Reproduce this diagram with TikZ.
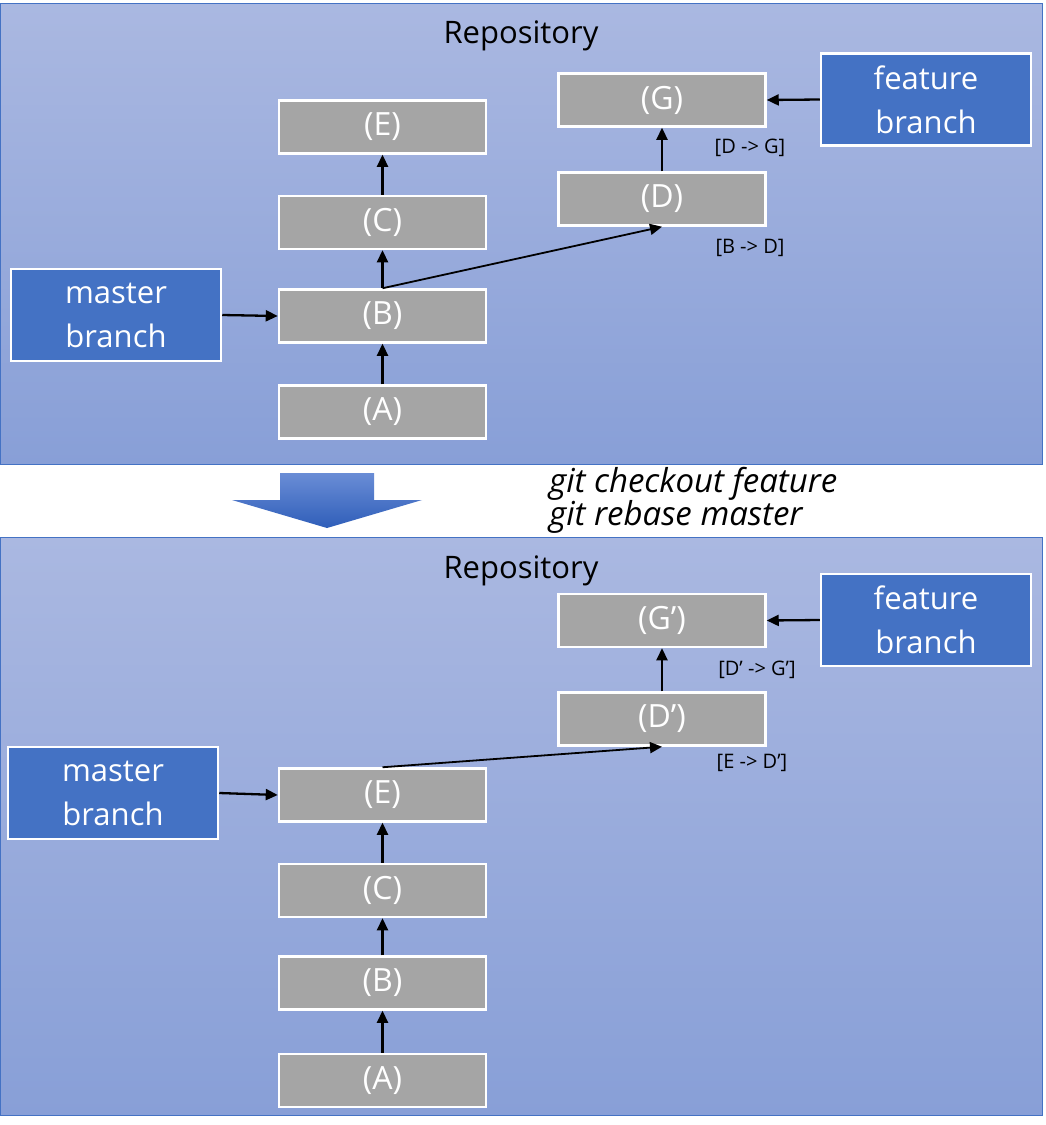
\documentclass[tikz,border=0pt]{standalone}
\usepackage{fontspec}
\setmainfont{Open Sans}
\usetikzlibrary{arrows.meta}
\definecolor{panelTop}{HTML}{AAB8E1}
\definecolor{panelBot}{HTML}{889FD7}
\definecolor{panelLine}{HTML}{4472C4}
\definecolor{branchFill}{HTML}{4472C4}
\definecolor{commitFill}{HTML}{A5A5A5}
\definecolor{bigTop}{HTML}{6A8DD6}
\definecolor{bigBot}{HTML}{2F5EB9}
\begin{document}
\begin{tikzpicture}[x=1pt,y=-1pt,
  panel/.style={draw=panelLine, line width=1pt, top color=panelTop, bottom color=panelBot,
    minimum width=1042pt, inner sep=0pt},
  commit/.style={draw=white, line width=2.5pt, fill=commitFill, minimum width=207pt,
    minimum height=53pt, inner sep=0pt, text=white, font=\fontsize{32}{36}\selectfont},
  branch/.style={draw=white, line width=2.5pt, fill=branchFill, minimum width=210pt,
    minimum height=92pt, inner sep=0pt, text=white, align=center,
    font=\fontsize{31}{44}\selectfont},
  title/.style={text=black, font=\fontsize{31}{36}\selectfont, inner sep=0pt},
  small/.style={text=black, font=\fontsize{20}{22}\selectfont, inner sep=0pt},
  link/.style={line width=2.3pt, -{Triangle[length=12pt,width=11pt]}},
  thinlink/.style={line width=1.8pt, -{Triangle[length=12pt,width=11pt]}}
]
\useasboundingbox[fill=white] (0,0) rectangle (1045,1125);

% panels
\node[panel, minimum height=461pt] (p1) at (521.5,233.5) {};
\node[panel, minimum height=578pt] (p2) at (521.5,826) {};

% top repository
\node[title] (r1) at (521,36) {Repository};
\node[commit] (e1) at (382.5,127) {(E)};
\node[commit] (c1) at (382.5,222.5) {(C)};
\node[commit] (b1) at (382.5,316) {(B)};
\node[commit] (a1) at (382.5,412) {(A)};
\node[commit] (g1) at (662,100) {(G)};
\node[commit] (d1) at (662,199) {(D)};
\node[branch] (m1) at (116,315) {master\\branch};
\node[branch] (f1) at (926,99.5) {feature\\branch};
\node[small] (l1) at (750,148) {[D -> G]};
\node[small] (l2) at (750,248) {[B -> D]};

\draw[link] (a1.north) -- (b1.south);
\draw[link] (b1.north) -- (c1.south);
\draw[link] (c1.north) -- (e1.south);
\draw[link] (d1.north) -- (g1.south);
\draw[link] (m1.east) -- (b1.west);
\draw[link] (f1.west) -- (g1.east);
\draw[thinlink] (b1.north) -- (d1.south);

% transition
\shade[top color=bigTop, bottom color=bigBot]
  (280,473) -- (374,473) -- (374,500) -- (422,500) -- (327,528) -- (232,500) -- (280,500) -- cycle;
\node[anchor=west, align=left, inner sep=0pt, font=\itshape\fontsize{33}{33}\selectfont] (cmd)
  at (549,500) {git checkout feature\\git rebase master};

% bottom repository
\node[title] (r2) at (521,571) {Repository};
\node[commit] (e2) at (382.5,795) {(E)};
\node[commit] (c2) at (382.5,890.5) {(C)};
\node[commit] (b2) at (382.5,983) {(B)};
\node[commit] (a2) at (382.5,1080.5) {(A)};
\node[commit] (g2) at (662,620.5) {(G’)};
\node[commit] (d2) at (662,719) {(D’)};
\node[branch] (m2) at (113,793) {master\\branch};
\node[branch] (f2) at (926,620) {feature\\branch};
\node[small] (l3) at (757,670) {[D’ -> G’]};
\node[small] (l4) at (752,763) {[E -> D’]};

\draw[link] (a2.north) -- (b2.south);
\draw[link] (b2.north) -- (c2.south);
\draw[link] (c2.north) -- (e2.south);
\draw[link] (d2.north) -- (g2.south);
\draw[link] (m2.east) -- (e2.west);
\draw[link] (f2.west) -- (g2.east);
\draw[thinlink] (e2.north) -- (d2.south);
\end{tikzpicture}
\end{document}
